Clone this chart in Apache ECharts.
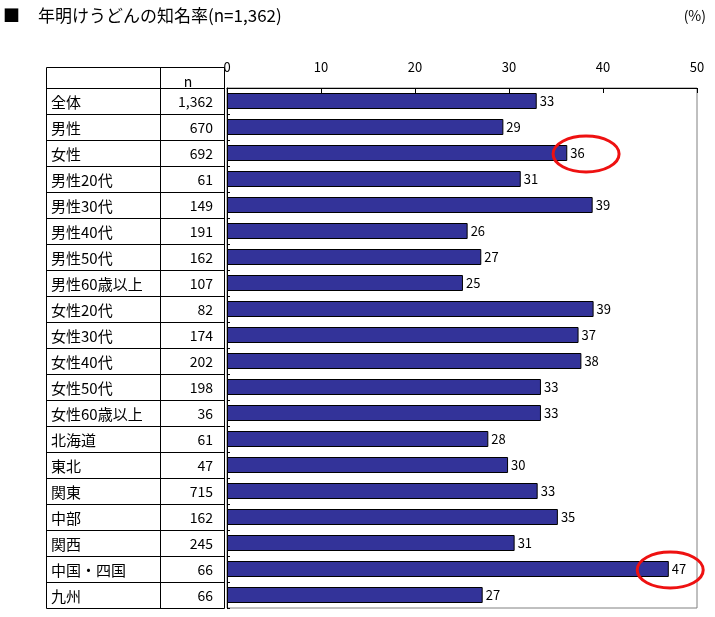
<!DOCTYPE html>
<html><head><meta charset="utf-8">
<script src="https://cdn.jsdelivr.net/npm/echarts@6/dist/echarts.min.js"></script>
<style>html,body{margin:0;padding:0;background:#fff}#c{width:715px;height:617px}</style>
</head><body><div id="c"></div>
<script>
const titleText = '年明けうどんの知名率(n=1,362)';
const unitText = '(%)';
const nHeader = 'n';
const categories = ['全体','男性','女性','男性20代','男性30代','男性40代','男性50代','男性60歳以上','女性20代','女性30代','女性40代','女性50代','女性60歳以上','北海道','東北','関東','中部','関西','中国・四国','九州'];
const nValues = ['1,362','670','692','61','149','191','162','107','82','174','202','198','36','61','47','715','162','245','66','66'];
const values = [32.95,29.4,36.2,31.25,38.9,25.6,27.05,25.1,39.0,37.4,37.7,33.4,33.4,27.8,29.9,33.05,35.2,30.6,47.0,27.2];
const highlightIdx = [2, 18];
const highlightX = [38.2, 47.15];

const FONT = '"Noto Sans CJK JP", "Noto Sans", sans-serif';
const chart = echarts.init(document.getElementById('c'), null, {renderer:'canvas'});
chart.setOption({
  animation:false,
  backgroundColor:'#fff',
  textStyle:{fontFamily:FONT},
  grid:{left:227, right:18, top:88, bottom:9, show:true, borderColor:'#808080', borderWidth:1, backgroundColor:'transparent'},
  xAxis:{type:'value', position:'top', min:0, max:50, interval:10,
    axisLine:{show:true, lineStyle:{color:'#000', width:1}},
    axisTick:{show:true, inside:true, length:5, lineStyle:{color:'#000'}},
    axisLabel:{fontSize:13, color:'#000', margin:14, fontFamily:FONT},
    splitLine:{show:false}},
  yAxis:{type:'category', data:categories, inverse:true,
    axisLine:{show:true, lineStyle:{color:'#000', width:1}},
    axisTick:{show:true, inside:true, length:3, lineStyle:{color:'#000'}},
    axisLabel:{show:false}, splitLine:{show:false}},
  series:[{type:'bar', data:values, barWidth:16,
    itemStyle:{color:'#333399', borderColor:'#000', borderWidth:1},
    label:{show:true, position:'right', distance:3, color:'#000', fontSize:13, fontFamily:FONT,
      formatter:p=>String(Math.round(p.value))}}]
});

function build(){
  const g = [];
  const c0 = chart.convertToPixel({yAxisIndex:0}, categories[0]);
  const c1 = chart.convertToPixel({yAxisIndex:0}, categories[1]);
  const band = c1 - c0;
  const top = Math.round(c0 - band/2);
  const headerTop = top - 20.5;
  const xL = 46.5, xM = 160.5, xR = 224.5;
  const bottom = top + band*categories.length;
  const lineStyle = {stroke:'#000', lineWidth:1};
  g.push({type:'line', shape:{x1:xL, y1:headerTop, x2:xR, y2:headerTop}, style:lineStyle});
  for(let i=0;i<=categories.length;i++){
    const y = Math.round(top + band*i) + 0.5;
    g.push({type:'line', shape:{x1:xL, y1:y, x2:xR, y2:y}, style:lineStyle});
  }
  [xL,xM,xR].forEach(x=>g.push({type:'line', shape:{x1:x, y1:headerTop, x2:x, y2:Math.round(bottom)+0.5}, style:lineStyle}));
  g.push({type:'text', style:{text:nHeader, x:188, y:82, fill:'#000', align:'center', verticalAlign:'middle', font:'14px '+FONT}});
  categories.forEach((cat,i)=>{
    const cy = chart.convertToPixel({yAxisIndex:0}, cat);
    g.push({type:'text', style:{text:cat, x:51, y:cy+1, fill:'#000', align:'left', verticalAlign:'middle', font:'15px '+FONT}});
    g.push({type:'text', style:{text:nValues[i], x:213, y:cy+1, fill:'#000', align:'right', verticalAlign:'middle', font:'14px '+FONT}});
  });
  g.push({type:'text', style:{text:'■', x:3, y:16, fill:'#000', align:'left', verticalAlign:'middle', font:'17px '+FONT}});
  g.push({type:'text', style:{text:titleText, x:38, y:16, fill:'#000', align:'left', verticalAlign:'middle', font:'17px '+FONT}});
  g.push({type:'text', style:{text:unitText, x:706, y:16, fill:'#000', align:'right', verticalAlign:'middle', font:'14px '+FONT}});
  highlightIdx.forEach((idx,k)=>{
    const p = chart.convertToPixel({gridIndex:0}, [highlightX[k], categories[idx]]);
    g.push({type:'ellipse', z:100, shape:{cx:p[0], cy:p[1]+1, rx:33, ry:18}, style:{fill:'none', stroke:'#ee1111', lineWidth:3}});
  });
  chart.setOption({graphic:g});
}
build();
</script></body></html>
